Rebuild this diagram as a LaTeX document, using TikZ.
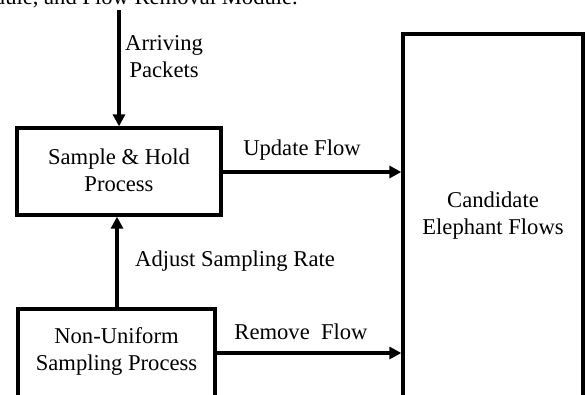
\documentclass[tikz,border=0pt]{standalone}
\usepackage{fontspec}
\setmainfont{Liberation Serif}
\usetikzlibrary{arrows.meta}
\begin{document}
\begin{tikzpicture}[x=1pt,y=-1pt,
  font=\fontsize{22.6}{27}\selectfont,
  box/.style={draw, line width=3.3pt, rectangle, inner sep=0pt},
  txt/.style={align=center, inner sep=0pt},
  conn/.style={line width=3.3pt, -{Triangle[length=12pt,width=12pt]}}]
\useasboundingbox (0,0) rectangle (585,394);
\clip (0,0) rectangle (585,394);
\fill[white] (0,0) rectangle (585,394);
% cropped caption line at the top
\node[anchor=base east, inner sep=0pt] (cap) at (298,4.5) {odule, and Flow Removal Module.};
% boxes
\node[box, minimum width=204pt, minimum height=87pt] (sh) at (119,171.5) {};
\node[txt] (shtxt) at (119,170) {Sample \& Hold\\Process};
\node[box, minimum width=197pt, minimum height=120pt] (nu) at (116.5,369) {};
\node[txt] (nutxt) at (116.5,351) {Non-Uniform\\Sampling Process};
\node[box, minimum width=180pt, minimum height=380pt] (ce) at (493,224) {};
\node[txt] (cetxt) at (493,216) {Candidate\\Elephant Flows};
% connectors
\coordinate (in) at (119,10);
\draw[conn] (in) -- (sh.north);
\node[txt, anchor=west] (arr) at (125,57) {Arriving\\Packets};
\draw[conn] (sh.east |- 0,172) -- (ce.west |- 0,172);
\node[txt] (upd) at (302,150) {Update Flow};
\draw[conn] (nu.north -| 117,0) -- (sh.south -| 117,0);
\node[txt, anchor=west] (adj) at (135,261) {Adjust Sampling Rate};
\draw[conn] (nu.east |- 0,353) -- (ce.west |- 0,353);
\node[txt] (rem) at (301,332) {Remove\ \ Flow};
\end{tikzpicture}
\end{document}
